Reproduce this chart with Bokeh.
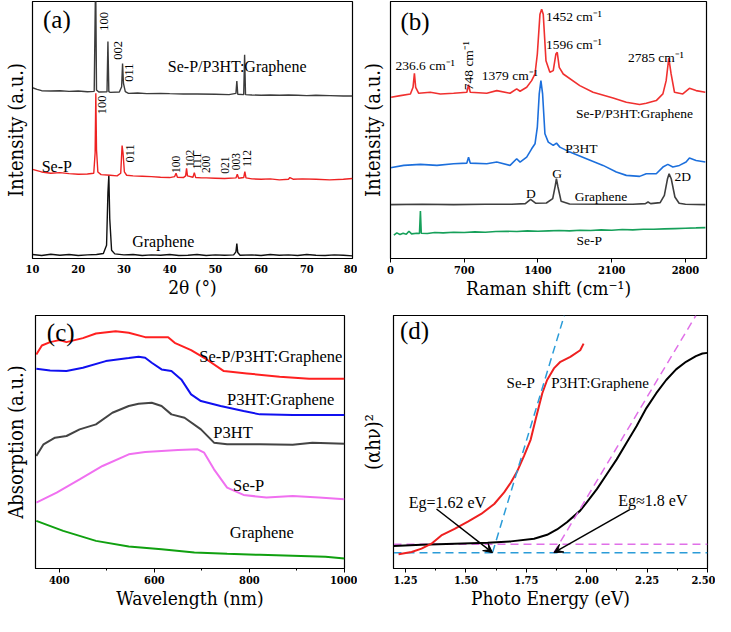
import math
from bokeh.plotting import figure
from bokeh.models import (Range1d, Label, Arrow, VeeHead, FixedTicker,
                          SingleIntervalTicker, NumeralTickFormatter)
from bokeh.layouts import row, column
from bokeh.embed import file_html
from bokeh.resources import INLINE

FONT = "Liberation Serif"
AXFONT = "DejaVu Serif Condensed"

# ---------------- (a) XRD data ----------------
xrd_graphene_x = [10, 12, 14, 16, 18, 20, 22, 24, 25.5, 26.2, 26.5, 26.7, 26.9, 27.3, 28, 30, 32, 34, 36, 38,
                  40, 42, 44, 46, 48, 50, 52, 54, 54.5, 54.7, 54.9, 55.4, 58, 60, 62, 64, 66, 68, 70, 72,
                  74, 76, 78, 80]
xrd_graphene_y = [12, 9, 13, 10, 12, 9, 11, 12, 15, 40, 200, 252, 120, 25, 14, 11, 12, 9, 11, 10,
                  12, 9, 10, 12, 9, 11, 10, 11, 20, 45, 18, 10, 11, 9, 12, 10, 11, 9, 12, 10,
                  9, 11, 10, 8]

xrd_sep_x = [10, 11, 12, 14, 16, 18, 20, 22, 23.4, 23.7, 23.85, 24.0, 24.3, 25, 27, 28.5, 29.3, 29.6, 29.8,
             30.1, 30.6, 32, 34, 36, 38, 40, 41.1, 41.4, 41.7, 43, 43.5, 43.7, 43.9, 45.1, 45.4, 45.7, 47,
             48, 50, 52, 54.5, 54.8, 55.1, 56.2, 56.45, 56.7, 58, 60, 62, 64, 66, 66.3, 67, 69, 72, 75, 78, 80]
xrd_sep_y = [270, 266, 262, 258, 260, 257, 255, 256, 258, 320, 500, 330, 262, 254, 252, 250, 258, 342, 320,
             262, 252, 250, 249, 248, 246, 245, 248, 258, 246, 245, 250, 273, 250, 246, 260, 245, 244,
             244, 243, 242, 244, 255, 243, 245, 263, 244, 241, 240, 241, 238, 240, 245, 240, 241, 240, 238, 240, 242]

xrd_comp_x = [10, 11, 12, 14, 16, 18, 20, 22, 23.5, 23.75, 23.85, 24.0, 24.5, 26.3, 26.5, 26.7, 27, 29, 29.5,
              29.7, 29.9, 30.3, 31, 33, 35, 38, 40, 43, 46, 50, 53, 54.5, 54.7, 54.9, 56.2, 56.4, 56.6, 58,
              60, 62, 64, 66, 68, 70, 72, 75, 78, 80]
xrd_comp_y = [517, 512, 508, 507, 508, 506, 507, 505, 506, 790, 790, 510, 504, 505, 657, 505, 503, 504, 520,
              590, 530, 505, 500, 501, 499, 500, 499, 498, 498, 497, 496, 500, 537, 497, 496, 617, 496, 495,
              494, 495, 494, 495, 494, 493, 494, 493, 492, 492]

xrd_ticks = [10, 20, 30, 40, 50, 60, 70, 80]

# ---------------- (b) Raman data ----------------
ram_comp_x = [6, 94, 189, 214, 227, 239, 268, 378, 473, 599, 725, 741, 757, 914, 1009, 1135, 1198, 1230,
              1293, 1340, 1372, 1394, 1419, 1435, 1450, 1476, 1513, 1545, 1570, 1583, 1602, 1640, 1797,
              1923, 2113, 2239, 2365, 2428, 2523, 2586, 2617, 2642, 2664, 2696, 2775, 2838, 2901, 2989]
ram_comp_y = [485, 490, 495, 515, 557, 515, 497, 500, 495, 497, 500, 523, 500, 497, 505, 497, 510, 503,
              515, 535, 555, 615, 735, 750, 735, 595, 560, 565, 615, 620, 575, 555, 520,
              500, 483, 470, 463, 467, 475, 495, 535, 603, 555, 500, 495, 512, 505, 500]

ram_p3ht_x = [0, 126, 284, 441, 599, 725, 741, 757, 914, 1009, 1135, 1198, 1230, 1293, 1340, 1372, 1394,
              1412, 1428, 1444, 1466, 1498, 1545, 1576, 1608, 1703, 1860, 2018, 2144, 2239, 2365, 2428,
              2523, 2586, 2633, 2680, 2743, 2806, 2838, 2901, 2989]
ram_p3ht_y = [273, 280, 283, 280, 285, 287, 305, 287, 285, 290, 280, 300, 290, 305, 330, 345, 395,
              495, 535, 495, 375, 350, 340, 347, 335, 320, 300, 280, 260, 250, 247, 255,
              255, 275, 283, 275, 280, 290, 302, 295, 290]

ram_gr_x = [0, 300, 600, 900, 1150, 1280, 1330, 1380, 1480, 1540, 1565, 1575, 1590, 1620, 1700, 2000, 2300,
            2420, 2445, 2470, 2560, 2600, 2630, 2645, 2665, 2700, 2740, 2800, 2990]
ram_gr_y = [162, 163, 162, 163, 163, 165, 178, 166, 167, 180, 220, 240, 215, 172, 164, 163, 163,
            165, 170, 165, 168, 190, 240, 255, 240, 185, 166, 163, 162]

ram_sep_x = [32, 60, 90, 120, 150, 175, 200, 250, 275, 284, 292, 350, 420, 500, 600, 700, 800, 900, 1000,
             1100, 1200, 1300, 1400, 1500, 1600, 1700, 1800, 1900, 2000, 2100, 2200, 2300, 2400, 2500,
             2600, 2700, 2800, 2900, 2990]
ram_sep_y = [70, 77, 72, 76, 73, 82, 74, 76, 75, 143, 76, 75, 78, 77, 79, 78, 80, 79, 81,
             82, 81, 83, 82, 83, 84, 83, 85, 84, 86, 85, 87, 86, 88, 88,
             89, 90, 91, 92, 93]

ram_ticks = [0, 700, 1400, 2100, 2800]

# ---------------- (c) UV-vis data ----------------
uv_comp_x = [351.7, 363.4, 380.7, 400, 415.2, 449.7, 477.2, 518.6, 546.2, 580.7, 629, 642.8, 677.3, 704.8,
             746.2, 794.5, 863.5, 925.6, 1000]
uv_comp_y = [643, 670, 680, 686, 680, 692, 706, 713, 708, 695, 695, 678, 656, 633, 593, 586, 576, 570, 570]

uv_p3gr_x = [351.7, 380.7, 415.2, 449.7, 497.9, 546.2, 566.9, 580.7, 594.5, 615.2, 635.9, 656.6, 677.3, 698,
             739.3, 787.6, 822, 891, 1000]
uv_p3gr_y = [600, 595, 593, 603, 623, 632, 636, 633, 618, 598, 593, 568, 523, 503, 488, 473, 463, 461, 461]

uv_p3ht_x = [351.7, 366.9, 391, 415.2, 442.8, 477.2, 511.7, 546.2, 566.9, 594.5, 615.2, 635.9, 663.5, 698,
             725.5, 753.1, 822, 891, 932.4, 1000]
uv_p3ht_y = [338, 373, 393, 398, 418, 433, 468, 488, 495, 498, 488, 463, 453, 418, 378, 373, 373, 372, 378, 375]

uv_sep_x = [351.7, 394.5, 442.8, 491, 546.2, 580.7, 649.7, 691, 704.8, 725.5, 753.1, 787.6, 835.9, 891,
            946.2, 1000]
uv_sep_y = [198, 228, 268, 308, 343, 350, 356, 358, 348, 298, 243, 221, 213, 218, 213, 208]

uv_gr_x = [351.7, 408.3, 477.2, 546.2, 615.2, 684.2, 753.1, 822, 891, 960, 1000]
uv_gr_y = [143, 113, 83, 66, 58, 48, 44, 41, 38, 35, 30]

# ---------------- (d) Tauc data ----------------
tauc_sep_x = [1.221, 1.275, 1.316, 1.357, 1.398, 1.453, 1.508, 1.563, 1.617, 1.658, 1.686, 1.713, 1.740,
              1.768, 1.788, 1.802, 1.816, 1.836, 1.864, 1.891, 1.932, 1.973, 1.987]
tauc_sep_y = [43, 50, 60, 75, 100, 120, 142, 165, 195, 230, 260, 295, 340,
              390, 450, 490, 530, 570, 605, 625, 640, 660, 680]

tauc_p3gr_x = [1.2, 1.316, 1.453, 1.59, 1.686, 1.782, 1.836, 1.877, 1.918, 1.973, 2.0, 2.042, 2.083, 2.124,
               2.165, 2.206, 2.247, 2.288, 2.329, 2.37, 2.411, 2.452, 2.479, 2.5]
tauc_p3gr_y = [68, 72, 75, 78, 82, 90, 102, 118, 140, 175, 200, 240, 285, 330,
               380, 430, 485, 530, 570, 602, 625, 642, 650, 652]

fit_sep_x = [1.61, 1.907]
fit_sep_y = [48, 765]
fit_p3gr_x = [1.864, 2.452]
fit_p3gr_y = [48, 765]
base_sep_x = [1.2, 2.5]
base_sep_y = [48, 48]
base_p3gr_x = [1.2, 2.5]
base_p3gr_y = [73, 73]

eg_sep = 1.61
eg_p3gr = 1.864


def make_fig(w, h, xr, yr, mbl, mbr, mbt, mbb, xlabel, ylabel, ystand):
    p = figure(width=w, height=h, x_range=Range1d(*xr), y_range=Range1d(*yr),
               output_backend="svg", toolbar_location=None,
               min_border_left=mbl, min_border_right=mbr,
               min_border_top=mbt, min_border_bottom=mbb)
    p.xgrid.visible = False
    p.ygrid.visible = False
    p.outline_line_color = "black"
    p.outline_line_width = 1.2
    p.outline_line_alpha = 1.0
    p.background_fill_color = "white"
    p.border_fill_color = "white"
    for ax in p.yaxis:
        ax.ticker = FixedTicker(ticks=[])
        ax.major_label_text_font_size = "0px"
        ax.major_tick_out = 0
        ax.major_tick_in = 0
        ax.minor_tick_out = 0
        ax.minor_tick_in = 0
        ax.major_label_standoff = 0
        ax.axis_line_color = "black"
        ax.axis_label = ylabel
        ax.axis_label_text_font = AXFONT
        ax.axis_label_text_font_size = "20px"
        ax.axis_label_text_font_style = "normal"
        ax.axis_label_text_color = "black"
        ax.axis_label_standoff = ystand
    for ax in p.xaxis:
        ax.axis_label = xlabel
        ax.axis_label_text_font = AXFONT
        ax.axis_label_text_font_size = "19px"
        ax.axis_label_text_font_style = "normal"
        ax.axis_label_text_color = "black"
        ax.axis_label_standoff = 0
        ax.major_label_text_font = AXFONT
        ax.major_label_text_font_size = "11px"
        ax.major_label_text_font_style = "bold"
        ax.major_label_text_color = "black"
        ax.major_label_standoff = 3
        ax.axis_line_color = "black"
        ax.major_tick_in = 0
        ax.major_tick_out = 4
        ax.minor_tick_in = 0
        ax.minor_tick_out = 2
        ax.major_tick_line_color = "black"
        ax.minor_tick_line_color = "black"
    return p


def add_label(p, x, y, text, size, align="left", angle=0.0, baseline="middle"):
    p.add_layout(Label(x=x, y=y, text=text, text_font=FONT, text_font_size=size,
                       text_align=align, text_baseline=baseline, angle=angle,
                       text_color="black"))


V = math.pi / 2

# ---------------- panel (a) ----------------
pa = make_fig(357, 304, (10, 80), (0, 778), 31, 5, 1, 44, "2θ (°)", "Intensity (a.u.)", 5)
pa.xaxis.ticker = FixedTicker(ticks=xrd_ticks)
pa.xaxis.major_tick_out = 0
pa.xaxis.minor_tick_out = 0
pa.xaxis.major_label_standoff = 6
pa.line(xrd_graphene_x, xrd_graphene_y, line_color="#111111", line_width=1.4)
pa.line(xrd_sep_x, xrd_sep_y, line_color="#ee2222", line_width=1.4)
pa.line(xrd_comp_x, xrd_comp_y, line_color="#3c3c3c", line_width=1.4)
add_label(pa, 12.3, 723, "(a)", "25px")
add_label(pa, 39.6, 582, "Se-P/P3HT:Graphene", "16px")
add_label(pa, 12.0, 280, "Se-P", "16px")
add_label(pa, 31.8, 50, "Graphene", "16px")
for (x, y, t) in [(25.6, 718, "100"), (28.7, 630, "002"), (31.1, 563, "011"),
                  (25.3, 465, "100"), (31.4, 318, "011")]:
    add_label(pa, x, y, t, "12.5px", align="center", angle=V)
for (x, y, t) in [(41.3, 285, "100"), (44.4, 303, "102"), (46.0, 295, "111"), (48.0, 285, "200"),
                  (52.0, 283, "021"), (54.5, 293, "003"), (56.9, 303, "112")]:
    add_label(pa, x, y, t, "11.5px", align="center", angle=V)

# ---------------- panel (b) ----------------
pb = make_fig(358, 304, (0, 3000), (0, 773), 32, 9, 1, 46, "Raman shift (cm⁻¹)", "Intensity (a.u.)", 6)
pb.xaxis.ticker = FixedTicker(ticks=ram_ticks)
pb.xaxis.minor_tick_line_color = None
pb.xaxis.minor_tick_out = 0
pb.line(ram_sep_x, ram_sep_y, line_color="#16a05a", line_width=1.6)
pb.line(ram_gr_x, ram_gr_y, line_color="#3f3f3f", line_width=1.6)
pb.line(ram_p3ht_x, ram_p3ht_y, line_color="#1c6fdc", line_width=1.6)
pb.line(ram_comp_x, ram_comp_y, line_color="#f0302f", line_width=1.6)
add_label(pb, 95, 713, "(b)", "25px")
add_label(pb, 47, 580, "236.6 cm⁻¹", "13.5px")
add_label(pb, 741, 580, "748 cm⁻¹", "13.5px", align="center", angle=V)
add_label(pb, 867, 550, "1379 cm⁻¹", "13.5px")
add_label(pb, 1476, 727, "1452 cm⁻¹", "13.5px")
add_label(pb, 1476, 645, "1596 cm⁻¹", "13.5px")
add_label(pb, 2254, 605, "2785 cm⁻¹", "13.5px")
add_label(pb, 1760, 435, "Se-P/P3HT:Graphene", "13.5px")
add_label(pb, 1658, 330, "P3HT", "13.5px")
add_label(pb, 1332, 195, "D", "13.5px", align="center")
add_label(pb, 1583, 257, "G", "13.5px", align="center")
add_label(pb, 1750, 185, "Graphene", "13.5px")
add_label(pb, 2696, 247, "2D", "13.5px")
add_label(pb, 1765, 55, "Se-P", "13.5px")

# ---------------- panel (c) ----------------
pc = make_fig(357, 312, (350, 1000), (0, 760), 31, 13, 11, 48, "Wavelength (nm)", "Absorption (a.u.)", 8)
pc.xaxis.ticker = SingleIntervalTicker(interval=200, num_minor_ticks=2)
pc.line(uv_gr_x, uv_gr_y, line_color="#10a010", line_width=2)
pc.line(uv_sep_x, uv_sep_y, line_color="#f070f0", line_width=2)
pc.line(uv_p3ht_x, uv_p3ht_y, line_color="#444444", line_width=2)
pc.line(uv_p3gr_x, uv_p3gr_y, line_color="#1010f0", line_width=2)
pc.line(uv_comp_x, uv_comp_y, line_color="#ff2020", line_width=2)
add_label(pc, 373.8, 708, "(c)", "25px")
add_label(pc, 694.5, 638, "Se-P/P3HT:Graphene", "16.5px")
add_label(pc, 753, 508, "P3HT:Graphene", "16.5px")
add_label(pc, 724, 408, "P3HT", "16.5px")
add_label(pc, 765.5, 248, "Se-P", "16.5px")
add_label(pc, 758.6, 108, "Graphene", "16.5px")

# ---------------- panel (d) ----------------
pd_ = make_fig(358, 312, (1.2, 2.5), (0, 765), 33, 8, 9, 48, "Photo Energy (eV)", "(αhν)²", 9)
pd_.xaxis.ticker = SingleIntervalTicker(interval=0.25, num_minor_ticks=2)
pd_.xaxis.formatter = NumeralTickFormatter(format="0.00")
pd_.line(base_p3gr_x, base_p3gr_y, line_color="#e070e8", line_width=1.5, line_dash="8 5")
pd_.line(base_sep_x, base_sep_y, line_color="#2b9cd8", line_width=1.5, line_dash="8 5")
pd_.line(tauc_p3gr_x, tauc_p3gr_y, line_color="black", line_width=2)
pd_.line(tauc_sep_x, tauc_sep_y, line_color="#ee2020", line_width=2)
pd_.line(fit_sep_x, fit_sep_y, line_color="#2b9cd8", line_width=1.5, line_dash="8 5")
pd_.line(fit_p3gr_x, fit_p3gr_y, line_color="#e070e8", line_width=1.5, line_dash="8 5")
pd_.add_layout(Arrow(end=VeeHead(size=9, fill_color="black", line_color="black"),
                     x_start=1.378, y_start=180, x_end=eg_sep, y_end=base_sep_y[0],
                     line_color="black", line_width=1.5))
pd_.add_layout(Arrow(end=VeeHead(size=9, fill_color="black", line_color="black"),
                     x_start=2.178, y_start=178, x_end=eg_p3gr, y_end=base_sep_y[0],
                     line_color="black", line_width=1.5))
add_label(pd_, 1.227, 720, "(d)", "25px")
add_label(pd_, 1.423, 200, "Eg=1.62 eV", "16px", align="center")
add_label(pd_, 2.274, 205, "Eg≈1.8 eV", "16px", align="center")
add_label(pd_, 1.727, 562, "Se-P", "15px", align="center")
add_label(pd_, 2.055, 562, "P3HT:Graphene", "15px", align="center")

layout = column(row(pa, pb), row(pc, pd_))
open("out.html", "w").write(file_html(layout, INLINE))
